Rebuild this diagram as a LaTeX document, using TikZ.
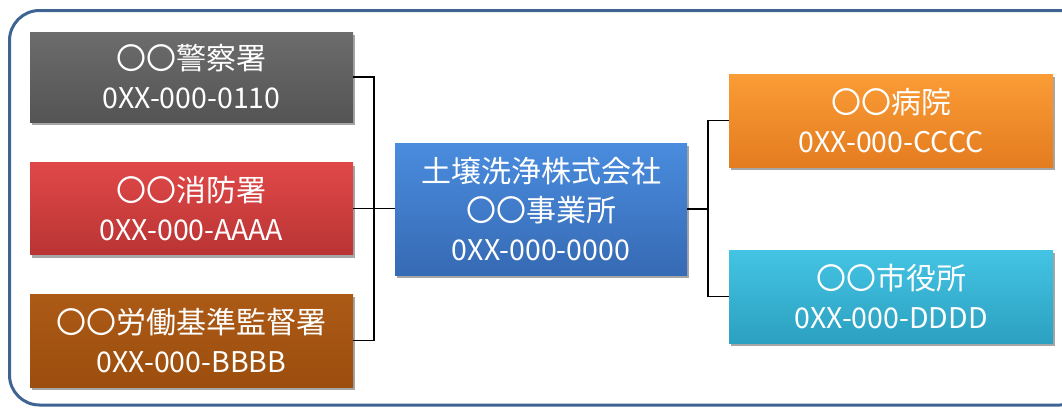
\documentclass[tikz,border=0pt]{standalone}
\usepackage{fontspec}
\setmainfont{Noto Sans CJK JP}
\usetikzlibrary{shadows}
\definecolor{framec}{HTML}{3F6493}
\newcommand{\numline}[1]{{\fontsize{28.5}{39}\selectfont #1}}
\tikzset{
  box/.style={draw=none, text=white, align=center, inner sep=0pt,
    font=\fontsize{30}{39}\selectfont,
    drop shadow={shadow xshift=2pt, shadow yshift=-3pt, opacity=0.35, fill=black}},
  conn/.style={draw=black, line width=1.4pt},
}
\begin{document}
\begin{tikzpicture}[x=1pt,y=-1pt]
\useasboundingbox (0,0) rectangle (1062,407);
\clip (0,0) rectangle (1062,407);
\draw[framec, line width=3pt, rounded corners=30pt] (9.5,10.5) rectangle (1090,405);
\node[box, minimum width=323pt, minimum height=90pt,
  top color={rgb,255:red,108;green,108;blue,108}, bottom color={rgb,255:red,84;green,84;blue,84}]
  (police) at (191.5,77) {〇〇警察署\\\numline{0XX-000-0110}};
\node[box, minimum width=323pt, minimum height=92pt,
  top color={rgb,255:red,224;green,72;blue,72}, bottom color={rgb,255:red,186;green,52;blue,52}]
  (fire) at (191.5,208.5) {〇〇消防署\\\numline{0XX-000-AAAA}};
\node[box, minimum width=323pt, minimum height=93pt,
  top color={rgb,255:red,172;green,90;blue,22}, bottom color={rgb,255:red,156;green,78;blue,14}]
  (labor) at (191.5,340.5) {〇〇労働基準監督署\\\numline{0XX-000-BBBB}};
\node[box, minimum width=292pt, minimum height=132pt,
  top color={rgb,255:red,74;green,140;blue,222}, bottom color={rgb,255:red,54;green,106;blue,180}]
  (center) at (541,209) {土壌洗浄株式会社\\〇〇事業所\\\numline{0XX-000-0000}};
\node[box, minimum width=324pt, minimum height=93pt,
  top color={rgb,255:red,250;green,156;blue,54}, bottom color={rgb,255:red,228;green,124;blue,32}]
  (hosp) at (891,120.5) {〇〇病院\\\numline{0XX-000-CCCC}};
\node[box, minimum width=324pt, minimum height=93pt,
  top color={rgb,255:red,68;green,196;blue,228}, bottom color={rgb,255:red,44;green,160;blue,192}]
  (city) at (891,296.5) {〇〇市役所\\\numline{0XX-000-DDDD}};
\coordinate (lbus) at (374,0);
\coordinate (rbus) at (708,0);
\draw[conn] (police.east) -- (police.east -| lbus) -- (labor.east -| lbus) -- (labor.east);
\draw[conn] (fire.east) -- (center.west |- fire.east);
\draw[conn] (center.east) -- (center.east -| rbus);
\draw[conn] (hosp.west) -- (hosp.west -| rbus) -- (city.west -| rbus) -- (city.west);
\end{tikzpicture}
\end{document}
